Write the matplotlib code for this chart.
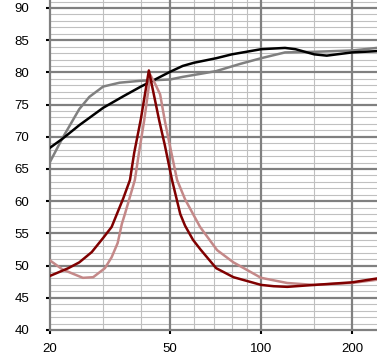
import matplotlib
matplotlib.use("Agg")
import matplotlib.pyplot as plt
from matplotlib.ticker import FixedLocator, NullFormatter

# frequency response curves
f_black = [20, 22, 25, 30, 35, 40, 45, 50, 55, 60, 71, 80, 100, 120, 130, 150, 165, 200, 242]
db_black = [68.3, 69.7, 71.8, 74.5, 76.3, 77.8, 79.0, 80.1, 81.0, 81.5, 82.2, 82.8, 83.6, 83.8, 83.6, 82.8, 82.6, 83.1, 83.3]

f_gray = [20, 22, 25, 27, 30, 34, 40, 50, 55, 71, 85, 100, 120, 150, 200, 242]
db_gray = [66.1, 69.8, 74.3, 76.2, 77.8, 78.4, 78.7, 78.9, 79.3, 80.2, 81.3, 82.2, 83.1, 83.2, 83.4, 83.8]

f_dark = [20, 23, 25, 27.5, 30, 32, 33.3, 35, 36.8, 38, 40, 42.5, 46, 48, 50.7, 54, 56, 59.5, 63, 71, 81, 100, 110, 122, 150, 200, 242]
db_dark = [48.4, 49.6, 50.5, 52.1, 54.3, 56.0, 58.0, 60.5, 63.3, 67.5, 72.8, 80.3, 72.5, 68.7, 63.3, 58.0, 56.2, 54.0, 52.5, 49.6, 48.2, 47.0, 46.8, 46.7, 47.0, 47.4, 48.0]

f_rose = [20, 22, 25.7, 27.8, 30.4, 32, 33.5, 34.6, 35.4, 38.2, 39.4, 41, 43, 44.5, 46.3, 48, 49.9, 52.7, 56, 62.8, 71.5, 81, 100, 122, 150, 200, 242]
db_rose = [50.8, 49.4, 48.1, 48.2, 49.6, 51.3, 53.5, 56.5, 58.0, 63.3, 67.5, 72.5, 79.6, 78.3, 76.6, 72.5, 68.6, 63.3, 60.3, 56.0, 52.4, 50.5, 48.1, 47.3, 47.0, 47.3, 47.8]

x_major = [50, 100, 200]
x_minor = [30, 40, 60, 70, 80, 90, 150]
x_labels = [20, 50, 100, 200]

plt.rcParams["font.family"] = ["Liberation Sans", "DejaVu Sans"]

fig = plt.figure(figsize=(3.77, 3.53), dpi=100)
ax = fig.add_axes([50 / 377, 23 / 353, 327 / 377, 330 / 353])
ax.set_xscale("log")
ax.set_xlim(20, 242)
ax.set_ylim(40, 91.24)

# grid
for y in range(41, 92):
    if y % 5 != 0:
        ax.axhline(y, color="#c0c0c0", lw=0.8, zorder=1)
for y in range(45, 95, 5):
    ax.axhline(y, color="#808080", lw=1.6, zorder=1.5)
for x in x_minor:
    ax.axvline(x, color="#c0c0c0", lw=0.8, zorder=1)
for x in x_major:
    ax.axvline(x, color="#808080", lw=1.6, zorder=1.5)

ax.plot(f_gray, db_gray, color="#808080", lw=1.8, zorder=3)
ax.plot(f_black, db_black, color="black", lw=1.8, zorder=4)
ax.plot(f_rose, db_rose, color="#c48888", lw=1.8, zorder=5)
ax.plot(f_dark, db_dark, color="#800000", lw=1.8, zorder=6)

for s in ["top", "right"]:
    ax.spines[s].set_visible(False)
for s in ["left", "bottom"]:
    ax.spines[s].set_color("#808080")
    ax.spines[s].set_linewidth(1.6)

ax.xaxis.set_major_locator(FixedLocator(x_labels))
ax.xaxis.set_minor_locator(FixedLocator([]))
ax.xaxis.set_minor_formatter(NullFormatter())
ax.set_xticklabels([str(v) for v in x_labels])
ax.set_yticks(range(40, 95, 5))
ax.tick_params(axis="y", length=3, width=1.5, color="black", pad=12, labelsize=9.5)
ax.tick_params(axis="x", length=3, width=1.5, color="black", pad=6, labelsize=9.5)

fig.savefig("out.png", dpi=100)
